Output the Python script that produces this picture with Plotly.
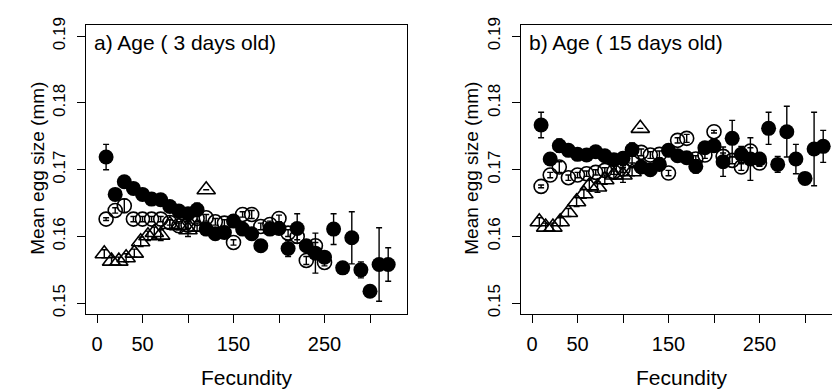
import plotly.graph_objects as go

W, H = 832, 390

# ---------------- data: panel a) 3 days old ----------------
fec_filled = [10, 20, 30, 40, 50, 60, 70, 80, 90, 100, 110, 120, 130, 140, 150, 160,
              170, 180, 190, 200, 210, 220, 230, 240, 250, 260, 270, 280, 290, 300, 310, 320]
a_filled = [0.1719, 0.1663, 0.1682, 0.1672, 0.1663, 0.1656, 0.1655, 0.1645, 0.1638, 0.1634,
            0.1640, 0.1611, 0.1604, 0.1606, 0.1623, 0.1611, 0.1604, 0.1586, 0.1611, 0.1612,
            0.1582, 0.1612, 0.1586, 0.1575, 0.1569, 0.1611, 0.1553, 0.1598, 0.1550, 0.1518,
            0.1558, 0.1558]
a_filled_err = [0.0019, 0.0006, 0.0008, 0.0005, 0.0005, 0.0004, 0.0006, 0.0005, 0.0005, 0.0005,
                0.0010, 0.0005, 0.0006, 0.0005, 0.0009, 0.0005, 0.0005, 0.0008, 0.0008, 0.0008,
                0.0012, 0.0022, 0.0007, 0.0030, 0.0006, 0.0023, 0.0008, 0.0039, 0.0012, 0.0005,
                0.0055, 0.0025]

fec_open = [10, 20, 30, 40, 50, 60, 70, 80, 90, 100, 110, 120, 130, 140, 150, 160, 170,
            180, 190, 200, 210, 220, 230, 240, 250]
a_open = [0.1626, 0.1639, 0.1646, 0.1626, 0.1626, 0.1626, 0.1626, 0.1621, 0.1616, 0.1617,
          0.1627, 0.1628, 0.1622, 0.1620, 0.1591, 0.1633, 0.1633, 0.1615, 0.1618, 0.1627,
          0.1605, 0.1600, 0.1564, 0.1586, 0.1561]
a_open_err = [0.0002, 0.0004, 0.0010, 0.0004, 0.0004, 0.0004, 0.0004, 0.0004, 0.0004, 0.0005,
              0.0005, 0.0005, 0.0005, 0.0005, 0.0004, 0.0004, 0.0006, 0.0005, 0.0005, 0.0005,
              0.0005, 0.0005, 0.0006, 0.0005, 0.0005]

fec_tri_a = [8, 16, 24, 32, 41, 48, 56, 63, 70, 80, 90, 100, 110, 120]
a_tri = [0.1574, 0.1563, 0.1563, 0.1568, 0.1575, 0.1592, 0.1601, 0.1606, 0.1602, 0.1618,
         0.1616, 0.1610, 0.1614, 0.1670]
a_tri_err = [0.0006, 0.0006, 0.0006, 0.0006, 0.0006, 0.0007, 0.0007, 0.0008, 0.0008, 0.0007,
             0.0006, 0.0010, 0.0006, 0.0000]

# ---------------- data: panel b) 15 days old ----------------
b_filled = [0.1767, 0.1716, 0.1736, 0.1729, 0.1723, 0.1722, 0.1727, 0.1721, 0.1715, 0.1717,
            0.1730, 0.1704, 0.1700, 0.1708, 0.1729, 0.1721, 0.1718, 0.1705, 0.1733, 0.1736,
            0.1712, 0.1747, 0.1723, 0.1716, 0.1716, 0.1762, 0.1708, 0.1757, 0.1716, 0.1687,
            0.1731, 0.1735]
b_filled_err = [0.0019, 0.0006, 0.0010, 0.0006, 0.0007, 0.0005, 0.0006, 0.0005, 0.0005, 0.0006,
                0.0010, 0.0006, 0.0006, 0.0006, 0.0008, 0.0006, 0.0006, 0.0010, 0.0008, 0.0007,
                0.0022, 0.0027, 0.0012, 0.0032, 0.0007, 0.0024, 0.0012, 0.0038, 0.0022, 0.0005,
                0.0055, 0.0024]

b_open = [0.1675, 0.1692, 0.1704, 0.1688, 0.1692, 0.1694, 0.1696, 0.1699, 0.1697, 0.1701,
          0.1715, 0.1726, 0.1722, 0.1723, 0.1695, 0.1744, 0.1747, 0.1716, 0.1722, 0.1757,
          0.1720, 0.1714, 0.1704, 0.1728, 0.1710]
b_open_err = [0.0002, 0.0004, 0.0008, 0.0004, 0.0004, 0.0004, 0.0004, 0.0004, 0.0004, 0.0005,
              0.0005, 0.0005, 0.0005, 0.0005, 0.0004, 0.0004, 0.0006, 0.0005, 0.0005, 0.0002,
              0.0005, 0.0005, 0.0005, 0.0005, 0.0005]

fec_tri_b = [8, 15, 23, 31, 40, 49, 57, 63, 72, 80, 90, 100, 110, 119]
b_tri = [0.1622, 0.1614, 0.1614, 0.1622, 0.1636, 0.1652, 0.1664, 0.1676, 0.1674, 0.1685,
         0.1692, 0.1692, 0.1697, 0.1762]
b_tri_err = [0.0006, 0.0006, 0.0006, 0.0006, 0.0006, 0.0007, 0.0007, 0.0008, 0.0008, 0.0007,
             0.0006, 0.0011, 0.0006, 0.0000]

x_ticks = [0, 50, 100, 150, 200, 250, 300]
x_ticktext = ["0", "50", "", "150", "", "250", ""]
y_ticks = [0.15, 0.16, 0.17, 0.18, 0.19]
y_ticktext = ["0.15", "0.16", "0.17", "0.18", "0.19"]

FONT = "Liberation Sans, Arial, sans-serif"
BLACK = "black"

fig = go.Figure()


def add_panel(xref, yref, fx_tri, y_tri, e_tri, fx_open, y_open, e_open, fx_f, y_f, e_f):
    common = dict(xaxis=xref, yaxis=yref, mode="markers", showlegend=False, cliponaxis=True)
    fig.add_trace(go.Scatter(
        x=fx_tri, y=y_tri,
        error_y=dict(type="data", array=e_tri, color=BLACK, thickness=1.4, width=3),
        marker=dict(symbol="triangle-up-open", size=16, color=BLACK, line=dict(width=1.6, color=BLACK)),
        **common))
    fig.add_trace(go.Scatter(
        x=fx_open, y=y_open,
        error_y=dict(type="data", array=e_open, color=BLACK, thickness=1.4, width=3),
        marker=dict(symbol="circle-open", size=14, color=BLACK, line=dict(width=1.6, color=BLACK)),
        **common))
    fig.add_trace(go.Scatter(
        x=fx_f, y=y_f,
        error_y=dict(type="data", array=e_f, color=BLACK, thickness=1.4, width=3),
        marker=dict(symbol="circle", size=15, color=BLACK, line=dict(width=0)),
        **common))


add_panel("x", "y", fec_tri_a, a_tri, a_tri_err, fec_open, a_open, a_open_err,
          fec_filled, a_filled, a_filled_err)
add_panel("x2", "y2", fec_tri_b, b_tri, b_tri_err, fec_open, b_open, b_open_err,
          fec_filled, b_filled, b_filled_err)

# pixel geometry of the two plot boxes
top_px, bot_px = 18, 315
ydom = [1 - bot_px / H, 1 - top_px / H]
px_per_unit_x = 0.91
px_per_unit_y = 6850.0
yrange = [0.15 - (bot_px - 304) / px_per_unit_y, 0.19 + (30 - top_px) / px_per_unit_y]

xa_common = dict(
    tickvals=x_ticks, ticktext=x_ticktext, ticks="outside", ticklen=8, tickwidth=1.3,
    tickcolor=BLACK, showline=True, linecolor=BLACK, linewidth=1.3, showgrid=False,
    zeroline=False, tickfont=dict(family=FONT, size=20, color=BLACK), ticklabelstandoff=4,
)
ya_common = dict(
    tickvals=y_ticks, ticktext=y_ticktext, ticks="outside", ticklen=8, tickwidth=1.3,
    tickcolor=BLACK, showline=True, linecolor=BLACK, linewidth=1.3, showgrid=False,
    zeroline=False, tickangle=-90, range=yrange, domain=ydom,
    tickfont=dict(family=FONT, size=17, color=BLACK), ticklabelstandoff=5,
)

left_l, left_r, left_zero = 86, 407, 97
right_l, right_zero = 521, 532
fig.update_layout(
    width=W, height=H,
    margin=dict(l=0, r=0, t=0, b=0),
    paper_bgcolor="white", plot_bgcolor="white",
    xaxis=dict(domain=[left_l / W, left_r / W],
               range=[(left_l - left_zero) / px_per_unit_x, (left_r - left_zero) / px_per_unit_x],
               mirror=True, anchor="y", **xa_common),
    yaxis=dict(anchor="x", mirror=True, **ya_common),
    xaxis2=dict(domain=[right_l / W, 1.0],
                range=[(right_l - right_zero) / px_per_unit_x, (W - right_zero) / px_per_unit_x],
                mirror=True, anchor="y2", **xa_common),
    yaxis2=dict(anchor="x2", mirror=False, **ya_common),
)

annots = [
    dict(text="a) Age ( 3 days old)", x=92 / W, y=1 - 36 / H, xanchor="left", yanchor="middle", size=21),
    dict(text="b) Age ( 15 days old)", x=527 / W, y=1 - 36 / H, xanchor="left", yanchor="middle", size=21),
    dict(text="Fecundity", x=247 / W, y=1 - 380 / H, xanchor="center", yanchor="middle", size=21),
    dict(text="Fecundity", x=682 / W, y=1 - 380 / H, xanchor="center", yanchor="middle", size=21),
    dict(text="Mean egg size (mm)", x=38 / W, y=1 - 166 / H, xanchor="center", yanchor="middle",
         size=19, angle=-90),
    dict(text="Mean egg size (mm)", x=472 / W, y=1 - 166 / H, xanchor="center", yanchor="middle",
         size=19, angle=-90),
]
for a in annots:
    fig.add_annotation(
        text=a["text"], x=a["x"], y=a["y"], xref="paper", yref="paper",
        xanchor=a["xanchor"], yanchor=a["yanchor"], showarrow=False,
        textangle=a.get("angle", 0),
        font=dict(family=FONT, size=a["size"], color=BLACK),
    )

fig.write_html("out.html")
